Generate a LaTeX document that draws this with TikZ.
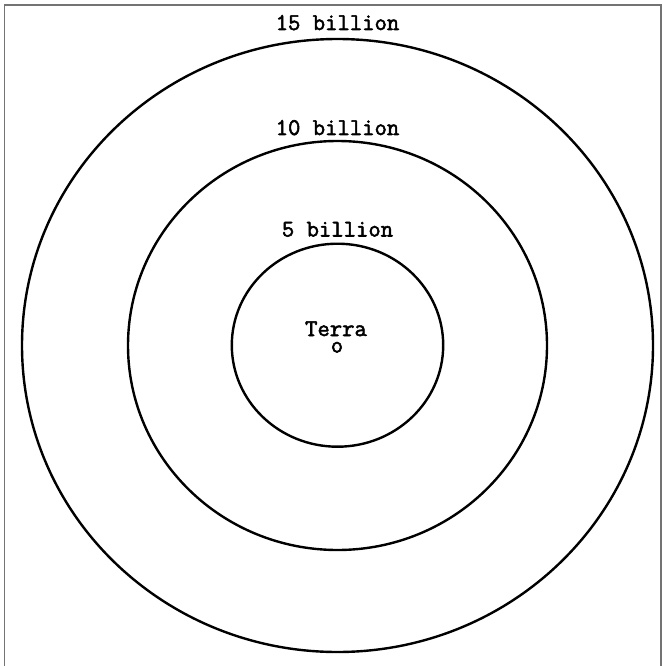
\documentclass[tikz,border=0pt]{standalone}
\usepackage{fontspec}
\newfontfamily\lblfont{Latin Modern Mono}[FakeBold=2.2]
\begin{document}
\begin{tikzpicture}[x=1pt,y=-1pt,
  orbit/.style={draw=black,line width=2.4pt},
  lbl/.style={font=\lblfont\fontsize{24}{24}\selectfont,anchor=base,inner sep=0pt},
  frame/.style={draw=black!55,line width=1.6pt}]
\useasboundingbox (0,0) rectangle (663,666);
\fill[white] (0,0) rectangle (663,666);
\draw[frame] (4.5,668) -- (4.5,5) -- (661,5) -- (661,668);
\draw[orbit] (337.5,345.5) ellipse [x radius=315.5pt, y radius=306.5pt];
\draw[orbit] (337.5,345.5) ellipse [x radius=209.5pt, y radius=204.5pt];
\draw[orbit] (337.5,345.2) ellipse [x radius=105.7pt, y radius=101.5pt];
\node[lbl] (l15) at (337.5,30) {15 billion};
\node[lbl] (l10) at (337.5,135) {10 billion};
\node[lbl] (l5) at (337.5,236.5) {5 billion};
\node[lbl,text depth=0pt] (terra) at (336,336) {Terra};
\node[lbl,text height=10pt] (earth) at (337,352.5) {o};
\end{tikzpicture}
\end{document}
